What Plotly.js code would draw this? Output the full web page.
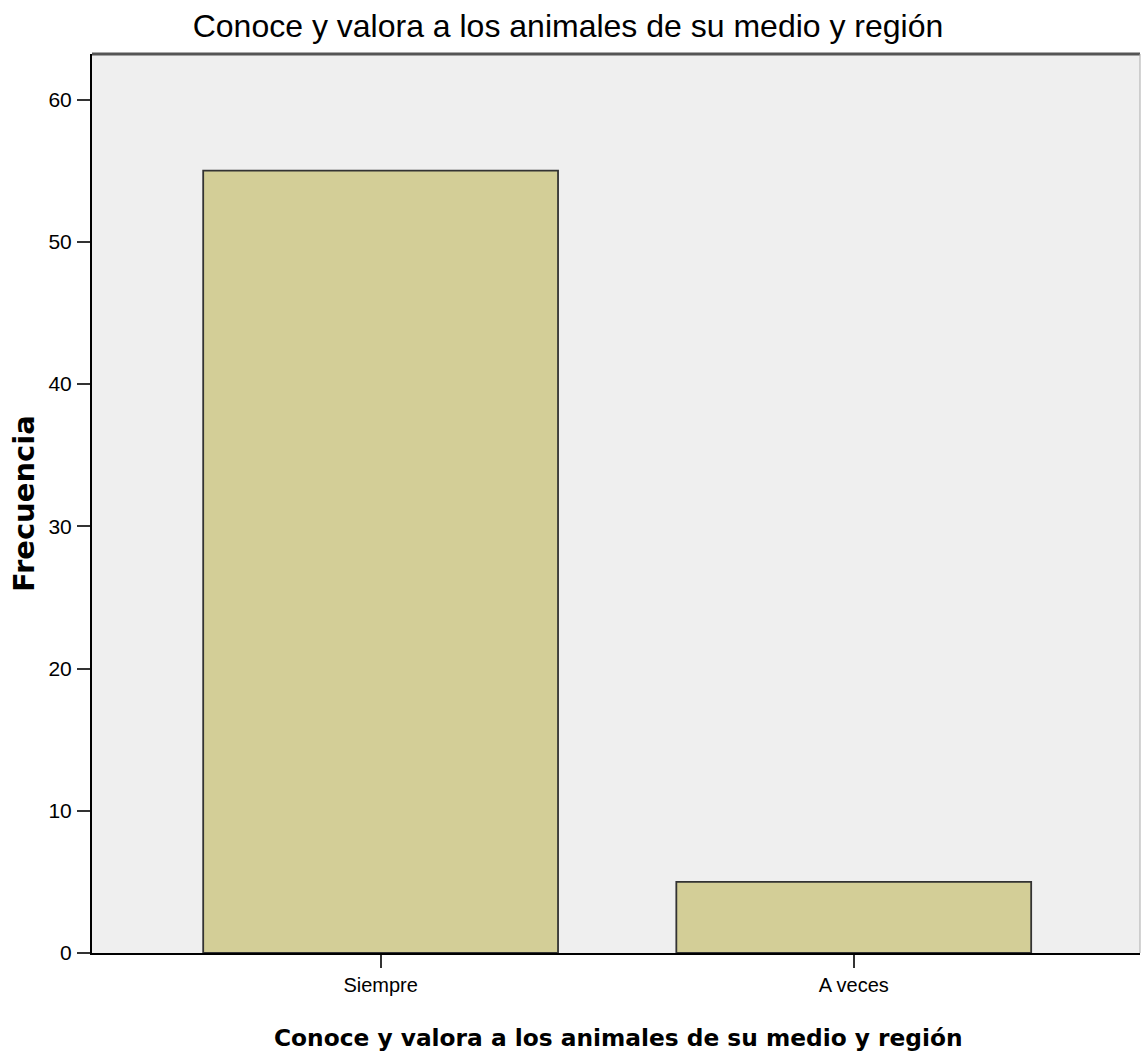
<!DOCTYPE html>
<html>
<head>
<meta charset="utf-8">
<script src="https://cdn.plot.ly/plotly-3.0.1.min.js"></script>
<style>html,body{margin:0;padding:0;background:#fff;}#chart{width:1141px;height:1055px;}</style>
</head>
<body>
<div id="chart"></div>
<script>
const categories = ["Siempre", "A veces"];
const frequencies = [55, 5];
const yTickValues = [0, 10, 20, 30, 40, 50, 60];
const chartTitle = "Conoce y valora a los animales de su medio y región";
const xTitle = "Conoce y valora a los animales de su medio y región";
const yTitle = "Frecuencia";

const sans = "'Liberation Sans', Arial, sans-serif";
const dejavu = "'DejaVu Sans', sans-serif";

const trace = {
  type: "bar",
  x: categories,
  y: frequencies,
  width: 0.75,
  marker: { color: "#d3ce97", line: { color: "#333333", width: 1.8 } },
  hoverinfo: "x+y"
};

const layout = {
  width: 1141,
  height: 1055,
  margin: { l: 92, r: 1, t: 54, b: 102 },
  paper_bgcolor: "#ffffff",
  plot_bgcolor: "#efefef",
  showlegend: false,
  title: {
    text: chartTitle,
    font: { family: sans, size: 32, color: "#000" },
    x: 568 / 1141, xanchor: "center", xref: "container",
    y: 1 - 26 / 1055, yanchor: "middle", yref: "container"
  },
  xaxis: {
    type: "category",
    range: [-0.61, 1.605],
    showgrid: false,
    zeroline: false,
    showline: true, linecolor: "#000", linewidth: 2,
    ticks: "outside", ticklen: 13, tickwidth: 2, tickcolor: "#333",
    tickfont: { family: sans, size: 20, color: "#000" },
    fixedrange: true
  },
  yaxis: {
    range: [0, 63.2],
    tickvals: yTickValues,
    ticktext: yTickValues.map(String),
    showgrid: false,
    zeroline: false,
    showline: true, linecolor: "#000", linewidth: 2,
    ticks: "outside", ticklen: 13, tickwidth: 2, tickcolor: "#333",
    tickfont: { family: sans, size: 21, color: "#000" },
    ticklabelstandoff: 1,
    fixedrange: true
  },
  shapes: [
    { type: "line", xref: "paper", yref: "paper", x0: 0, x1: 1, y0: 1, y1: 1,
      line: { color: "#555", width: 3 } },
    { type: "line", xref: "paper", yref: "paper", x0: 1, x1: 1, y0: 0, y1: 1,
      line: { color: "#aaa", width: 1 } }
  ],
  annotations: [
    { text: "<b>" + xTitle + "</b>", xref: "paper", yref: "paper",
      x: (618 - 92) / 1048, y: (953 - 1037) / 899, xanchor: "center", yanchor: "middle",
      showarrow: false, font: { family: dejavu, size: 23.3, color: "#000" } },
    { text: "<b>" + yTitle + "</b>", xref: "paper", yref: "paper",
      x: (24 - 92) / 1048, y: (953 - 504) / 899, xanchor: "center", yanchor: "middle",
      textangle: -90, showarrow: false,
      font: { family: dejavu, size: 29, color: "#000" } }
  ]
};

Plotly.newPlot("chart", [trace], layout, { displayModeBar: false, staticPlot: true });
</script>
</body>
</html>
